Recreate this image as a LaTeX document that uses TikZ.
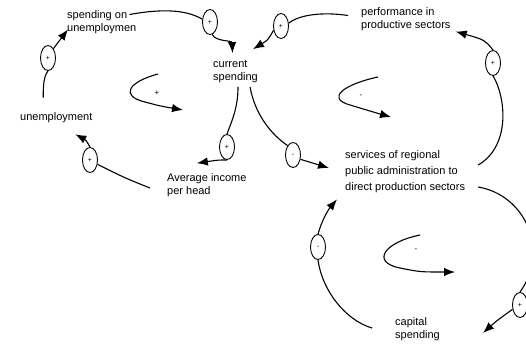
\documentclass[tikz,border=0pt]{standalone}
\usepackage{fontspec}
\setmainfont{Liberation Sans}
\usetikzlibrary{arrows.meta,shapes.geometric}

\begin{document}
\begin{tikzpicture}[x=1pt,y=-1pt,
        var/.style={align=left,anchor=west,inner sep=0pt,font=\fontsize{11}{13}\selectfont},
        sgn/.style={draw,ellipse,line width=0.9pt,minimum width=15pt,minimum height=25pt,inner sep=0pt,font=\fontsize{7}{7}\selectfont},
        lien/.style={line width=1.1pt},
        fl/.style={line width=1.1pt,-{Latex[length=11pt,width=8.5pt]}}]
            \useasboundingbox (0,0) rectangle (526,343);
            \clip (0,0) rectangle (526,343);
            % variables
            \node[var] (spu) at (67,22.5) {spending on\\unemploymen};
            \node[var] (cur) at (213,71.5) {current\\spending};
            \node[var] (perf) at (361,19.5) {performance in\\productive sectors};
            \node[var] (unemp) at (20,118) {unemployment};
            \node[var] (avg) at (167,185) {Average income\\per head};
            \node[var,font=\fontsize{11}{16}\selectfont] (serv) at (345,172) {services of regional\\public administration to\\direct production sectors};
            \node[var] (cap) at (395,329) {capital\\spending};
            % signes des liens
            \node[sgn] (s1) at (210,22) {+};
            \node[sgn] (s2) at (281,26) {+};
            \node[sgn] (s3) at (493,63) {+};
            \node[sgn] (s4) at (48,58) {+};
            \node[sgn] (s5) at (90,160) {+};
            \node[sgn] (s6) at (227,147) {+};
            \node[sgn] (s7) at (293,155) {-};
            \node[sgn] (s8) at (318,247) {-};
            \node[sgn] (s9) at (520,305) {+};
            % liens
            \draw[lien] ([shift={(-7,-8)}]spu.east) .. controls (160,9) and (185,9) .. (s1.160);
            \draw[fl] (s1.-80) .. controls (216,42) and (232,40) .. ([shift={(-3,-7)}]cur.north);
            \draw[lien] ([shift={(-13,-4)}]perf.west) .. controls (325,12) and (300,14) .. (s2.20);
            \draw[fl] (s2.-150) .. controls (268,40) .. ([shift={(-5,-11)}]cur.north east);
            \draw[lien] ([shift={(13,-7)}]serv.east) .. controls (512,145) and (505,95) .. (s3.south);
            \draw[fl] (s3.north) .. controls (485,40) .. ([shift={(5,12)}]perf.east);
            \draw[lien] ([shift={(-13,-15)}]unemp.north) .. controls (43,85) and (44,76) .. (s4.south);
            \draw[fl] (s4.60) -- ([shift={(1,-5)}]spu.south west);
            \draw[lien] ([shift={(-17,3)}]avg.west) .. controls (125,178) .. (s5.-30);
            \draw[fl] (s5.north) .. controls (86,140) .. ([shift={(19,11)}]unemp.south);
            \draw[lien] ([shift={(2.5,4)}]cur.south) .. controls (238,110) and (230,125) .. (s6.north);
            \draw[fl] (s6.south) .. controls (218,160) .. ([shift={(-10,-10)}]avg.north);
            \draw[lien] ([shift={(-8,4)}]cur.south east) .. controls (255,115) and (272,135) .. (s7.120);
            \draw[fl] (s7.-30) -- ([shift={(-16,-4)}]serv.west);
            \draw[lien] ([shift={(-23,-1)}]cap.west) .. controls (345,320) and (322,290) .. (s8.south);
            \draw[fl] (s8.north) .. controls (322,220) and (328,210) .. ([shift={(-8,6)}]serv.south west);
            \draw[lien] ([shift={(13,15)}]serv.east) .. controls (525,195) and (550,250) .. (s9.north);
            \draw[fl] (s9.-150) .. controls (495,322) .. ([shift={(43,4)}]cap.east);
            % boucles
            \draw[fl] (158,74) .. controls (128,82) and (120,96) .. (145,102) .. controls (160,106) .. (183,110);
            \node[font=\fontsize{8}{8}\selectfont] (b1) at (157,93) {+};
            \draw[fl] (378,77) .. controls (345,84) and (325,98) .. (350,105) .. controls (365,110) .. (391,117);
            \node[font=\fontsize{8}{8}\selectfont] (b2) at (361,96) {-};
            \draw[fl] (420,235) .. controls (385,242) and (370,262) .. (400,268) .. controls (420,272) .. (455,272);
            \node[font=\fontsize{8}{8}\selectfont] (b3) at (416,250) {-};
        \end{tikzpicture}
\end{document}
